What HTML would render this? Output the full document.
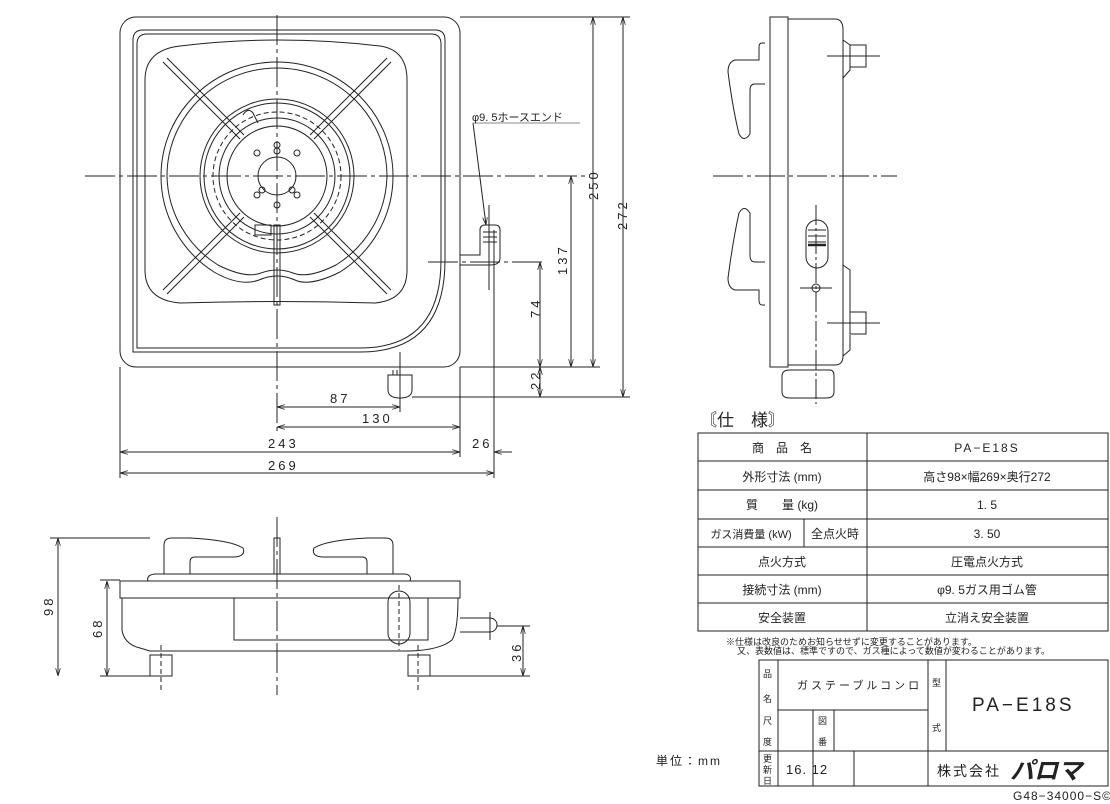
<!DOCTYPE html>
<html><head><meta charset="utf-8"><style>
html,body{margin:0;padding:0;background:#fff;}
svg{display:block;}
text{font-family:"Liberation Sans","Noto Sans CJK JP",sans-serif;fill:#222;}
.d{font-size:13px;letter-spacing:3px;}
.t{font-size:11px;}
</style></head><body>
<svg width="1110" height="804" viewBox="0 0 1110 804" xmlns="http://www.w3.org/2000/svg">
<defs>
<marker id="a" viewBox="0 0 10 6" refX="10" refY="3" markerWidth="8" markerHeight="5" orient="auto-start-reverse"><path d="M0,0L10,3L0,6" fill="none" stroke="#222"/></marker>
</defs>
<g fill="none" stroke="#222" stroke-width="1">
<!-- TOP VIEW -->
<rect x="120" y="17" width="340" height="350" rx="16"/>
<path d="M133,352 V40 Q133,30 143,30 H435 Q445,30 445,40 V260 Q445,352 360,352 Z"/>
<path d="M137,348 V44 Q137,34 147,34 H431 Q441,34 441,44 V260 Q441,348 360,348 Z"/>
<path d="M145,80 Q145,50 180,46 Q277,34 380,46 Q407,50 407,80 V270 Q407,300 375,303 Q277,300 180,303 Q145,300 145,270 Z"/>
<path d="M161,176 A116,114 0 0 1 393,176 A116,114 0 0 1 340,272 Q310,287 295,280 Q277,272 259,280 Q240,287 214,272 A116,114 0 0 1 161,176Z"/>
<path d="M167,176 A110,108 0 0 1 387,176 A110,108 0 0 1 336,265 Q308,279 293,273 Q277,267 261,273 Q246,279 218,265 A110,108 0 0 1 167,176Z"/>
<circle cx="277" cy="176" r="77"/><circle cx="277" cy="176" r="73"/>
<circle cx="277" cy="176" r="64" stroke-dasharray="5,3"/>
<circle cx="277" cy="176" r="58"/><circle cx="277" cy="176" r="50"/>
<circle cx="277" cy="176" r="19"/>
<circle cx="257" cy="153" r="3"/><circle cx="297" cy="153" r="3"/><circle cx="277" cy="145" r="3"/><circle cx="277" cy="151" r="3"/>
<circle cx="257" cy="195" r="3"/><circle cx="262" cy="190" r="3"/><circle cx="297" cy="195" r="3"/><circle cx="292" cy="190" r="3"/><circle cx="277" cy="205" r="3"/>
<path d="M163,62 L240,139 M167,58 L244,135"/>
<path d="M391,62 L314,139 M387,58 L310,135"/>
<path d="M163,290 L240,213 M167,294 L244,217"/>
<path d="M391,290 L314,213 M387,294 L310,217"/>
<rect x="274" y="225" width="6" height="80"/>
<path d="M255,225 h16 v10 h-16 z M243,115 q5,-8 10,-2 l5,10"/>
<path d="M85,176 H590" stroke-dasharray="30,4,4,4"/>
<path d="M277,15 V432" stroke-dasharray="30,4,4,4"/>
<path d="M460,255 H480 V230 Q480,225 485,225 H495 Q500,225 500,230 V258 Q500,265 490,265 H460"/>
<path d="M483,232 H497 M483,237 H497 M483,242 H497"/>
<path d="M428,262 H545" stroke-dasharray="30,4,4,4"/>
<path d="M489,205 V290"/>
<path d="M473,123 L486,225" marker-end="url(#a)"/>
<path d="M473,123 H580" stroke="#888"/>
<path d="M388,375 H412 V390 Q412,398 400,398 Q388,398 388,390 Z M393,370 V375 M397,370 V375"/>
<path d="M400,352 V412"/>
<path d="M460,17 H630 M460,367 H600 M412,397 H630"/>
<path d="M540,262 V367" marker-start="url(#a)" marker-end="url(#a)"/>
<path d="M540,367 V397" marker-start="url(#a)" marker-end="url(#a)"/>
<path d="M571,176 V367" marker-start="url(#a)" marker-end="url(#a)"/>
<path d="M593,17 V367" marker-start="url(#a)" marker-end="url(#a)"/>
<path d="M623,17 V397" marker-start="url(#a)" marker-end="url(#a)"/>
<path d="M120,367 V478 M460,367 V457 M494,230 V478"/>
<path d="M277,407 H400" marker-start="url(#a)" marker-end="url(#a)"/>
<path d="M277,427 H460" marker-start="url(#a)" marker-end="url(#a)"/>
<path d="M120,452 H460" marker-start="url(#a)" marker-end="url(#a)"/>
<path d="M494,452 H512" marker-start="url(#a)"/>
<path d="M120,473 H494" marker-start="url(#a)" marker-end="url(#a)"/>
<!-- SIDE VIEW -->
<rect x="770" y="17" width="18" height="350"/>
<path d="M788,19 H835 Q843,19 843,30 V356 Q843,365 835,365 H788"/>
<path d="M843,40 L850,45 V70 L843,78 M843,265 L850,270 V312 M850,335 V350 L843,356"/>
<rect x="850" y="45" width="16" height="22"/><rect x="850" y="312" width="16" height="22"/>
<path d="M827,56 H880 M827,323 H880"/>
<path d="M765,43 H762 Q759,43 759,47 V60 H735 Q728,62 728,72 Q733,110 739,134 Q744,143 750,134 V90 Q750,84 755,84 H765"/>
<path d="M765,305 H762 Q759,305 759,300 V290 H735 Q728,288 728,278 Q733,240 739,213 Q744,204 750,213 V255 Q750,262 755,262 H765"/>
<path d="M713,176 H897" stroke-dasharray="30,4,4,4"/>
<rect x="806" y="220" width="22" height="48" rx="11"/>
<path d="M808,230 H826 M808,236 H826 M808,242 H826" /><path d="M808,245 H826" stroke-width="2.5"/>
<circle cx="816" cy="288" r="4"/><path d="M800,288 H832"/>
<path d="M816,205 V404" stroke-dasharray="20,3,3,3"/>
<path d="M782,376 Q782,370 790,370 H830 Q834,370 834,376 V392 Q834,398 826,398 H790 Q782,398 782,392 Z"/>
<!-- FRONT VIEW -->
<rect x="120" y="581" width="340" height="17"/>
<path d="M122,598 V630 Q124,644 140,648 L150,651 H410 Q440,650 452,640 Q458,630 458,598"/>
<path d="M148,581 Q146,575 155,574 H405 Q412,575 410,581"/>
<rect x="234" y="598" width="194" height="42"/>
<rect x="388" y="591" width="22" height="53" rx="11"/>
<path d="M399,585 V650" stroke-dasharray="5,3"/>
<path d="M460,618 H490 A7,7 0 0 1 490,632 H460"/>
<path d="M490,612 V640"/>
<rect x="150" y="655" width="22" height="21"/><rect x="408" y="655" width="22" height="21"/>
<path d="M161,645 V690 M418,645 V690" stroke-dasharray="5,3"/>
<path d="M164,574 V545 Q164,538 172,538 H190 Q230,540 243,548 Q246,556 235,557 H195 Q190,557 190,562 V574"/>
<path d="M393,574 V545 Q393,538 385,538 H367 Q327,540 314,548 Q311,556 322,557 H362 Q367,557 367,562 V574"/>
<rect x="274" y="538" width="6" height="36"/>
<path d="M277,517 V695" stroke-dasharray="30,4,4,4"/>
<path d="M50,538 H150 M100,580 H120 M100,676 H150 M430,676 H530 M497,626 H530"/>
<path d="M58,538 V676" marker-start="url(#a)" marker-end="url(#a)"/>
<path d="M107,581 V676" marker-start="url(#a)" marker-end="url(#a)"/>
<path d="M523,626 V676" marker-start="url(#a)" marker-end="url(#a)"/>
<!-- TABLE -->
<rect x="698" y="433" width="410" height="198"/>
<path d="M867,433 V631 M804,519 V547 M698,461 H1108 M698,490 H1108 M698,519 H1108 M698,547 H1108 M698,575 H1108 M698,603 H1108"/>
<!-- TITLE BLOCK -->
<path d="M759,660 H1108 V786 H759 Z M778,660 V786 M928,660 V786 M946,660 V751 M778,710 H928 M759,751 H1108 M813,710 V786 M834,710 V751 M854,751 V786"/>
</g>
<g class="d">
<text x="330" y="403">87</text><text x="362" y="423">130</text><text x="268" y="448">243</text><text x="472" y="448">26</text><text x="268" y="470">269</text>
<text transform="translate(598,200) rotate(-90)">250</text>
<text transform="translate(567,275) rotate(-90)">137</text>
<text transform="translate(540,318) rotate(-90)">74</text>
<text transform="translate(540,390) rotate(-90)">22</text>
<text transform="translate(627,230) rotate(-90)">272</text>
<text transform="translate(53,616) rotate(-90)">98</text>
<text transform="translate(102,638) rotate(-90)">68</text>
<text transform="translate(521,662) rotate(-90)">36</text>
</g>
<text x="472" y="121" class="t">φ9. 5ホースエンド</text>
<text x="700" y="426" style="font-size:17px">〘仕　様〙</text>
<g style="font-size:12px" text-anchor="middle">
<text x="782" y="452">商　品　名</text><text x="987" y="452" style="letter-spacing:2px">PA−E18S</text>
<text x="782" y="481">外形寸法 (mm)</text><text x="987" y="481">高さ98×幅269×奥行272</text>
<text x="782" y="509">質　　量 (kg)</text><text x="987" y="509">1. 5</text>
<text x="751" y="538" style="font-size:11px">ガス消費量 (kW)</text><text x="835" y="538">全点火時</text><text x="987" y="538">3. 50</text>
<text x="782" y="566">点火方式</text><text x="987" y="566">圧電点火方式</text>
<text x="782" y="594">接続寸法 (mm)</text><text x="987" y="594">φ9. 5ガス用ゴム管</text>
<text x="782" y="622">安全装置</text><text x="987" y="622">立消え安全装置</text>
</g>
<text x="726" y="645" style="font-size:9px">※仕様は改良のためお知らせせずに変更することがあります。</text>
<text x="737" y="654" style="font-size:9px">又、表数値は、標準ですので、ガス種によって数値が変わることがあります。</text>
<g style="font-size:9px">
<text x="763" y="677">品</text><text x="763" y="702">名</text>
<text x="763" y="724">尺</text><text x="763" y="745">度</text>
<text x="818" y="724">図</text><text x="818" y="745">番</text>
<text x="763" y="762">更</text><text x="763" y="773">新</text><text x="763" y="784">日</text>
<text x="932" y="686">型</text><text x="932" y="731">式</text>
</g>
<text x="797" y="689" style="font-size:11px;letter-spacing:3px">ガステーブルコンロ</text>
<text x="972" y="711" style="font-size:19px;letter-spacing:3px">PA−E18S</text>
<text x="786" y="774" style="font-size:13px;letter-spacing:1px">16. 12</text>
<text x="937" y="776" style="font-size:14px;letter-spacing:2px">株式会社</text>
<text x="1010" y="779" style="font-size:24px;font-weight:bold;font-style:italic">パロマ</text>
<text x="656" y="765" style="font-size:12px;letter-spacing:2px">単位：mm</text>
<text x="1013" y="800" style="font-size:12px;letter-spacing:1px">G48−34000−S©</text>
</svg>
</body></html>
